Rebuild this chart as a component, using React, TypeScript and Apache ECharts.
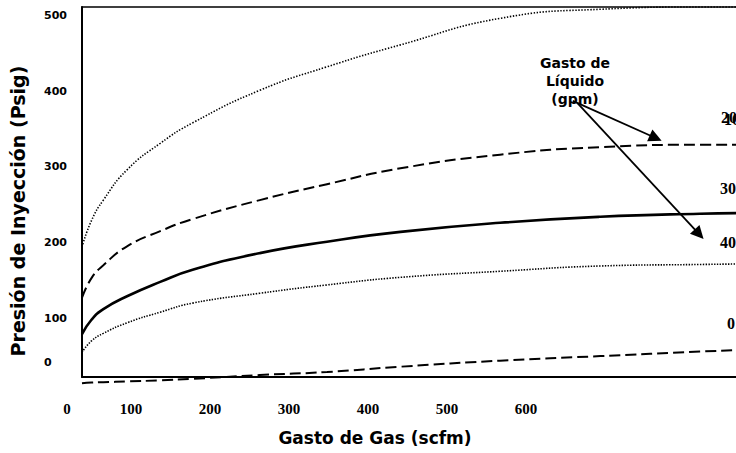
import React, { useEffect, useRef } from "react";
import * as echarts from "echarts";

// Gas flow (scfm) sample points shared by all curves
const gasScfm = [38, 50, 65, 95, 137, 178, 263, 348, 441, 567, 694, 820, 896];
// Injection pressure (Psig) for each liquid-rate curve
const curveTopDotted = [194, 229, 256, 296, 331, 358, 401, 432, 461, 496, 508, 511, 511];
const curveDashed = [127, 153, 170, 195, 215, 231, 256, 277, 298, 316, 326, 329, 329];
const curveSolid = [79, 98, 112, 129, 148, 164, 186, 201, 214, 226, 234, 238, 239];
const curveLowDotted = [55, 70, 80, 94, 108, 120, 133, 144, 154, 162, 169, 171, 172];
const curveBottomDashed = [14, 15, 15.5, 16.5, 18, 20, 25, 29, 36, 44, 50, 56, 59];

const xTickValues = [100, 200, 300, 400, 500, 600];
const yTickValues = [42, 100, 200, 300, 400, 500];
const yTickLabels = ["0", "100", "200", "300", "400", "500"];

// annotation arrows (data coords: scfm, Psig)
const arrowStarts = [[659, 387], [665, 384]];
const arrowEnds = [[764, 338], [819, 211]];

const SANS = '"DejaVu Sans", Verdana, sans-serif';
const SERIF = '"Liberation Serif", "Times New Roman", serif';

function line(ys: number[], lineStyle: any) {
  return {
    type: "line",
    data: gasScfm.map((x, i) => [x, ys[i]]),
    symbol: "none",
    showSymbol: false,
    smooth: 0.5,
    clip: false,
    silent: true,
    lineStyle: { color: "#000", ...lineStyle },
  };
}

const rightLabel = (text: string, x: number, y: number) => ({
  type: "text",
  x,
  y,
  style: { text, verticalAlign: "middle", fontFamily: SERIF, fontWeight: "bold", fontSize: 16, fill: "#000" },
});

export default function App() {
  const ref = useRef<HTMLDivElement>(null);
  useEffect(() => {
    if (!ref.current) return;
    const chart = echarts.init(ref.current, undefined, { renderer: "svg" });
    chart.setOption({
      animation: false,
      backgroundColor: "#fff",
      grid: {
        left: 82,
        top: 7,
        right: -24,
        bottom: 76,
        outerBoundsMode: "none",
        containLabel: false,
      },
      xAxis: [
        {
          type: "value",
          min: 38,
          max: 896,
          position: "bottom",
          name: "Gasto de Gas (scfm)",
          nameLocation: "middle",
          nameGap: 52,
          nameTextStyle: {
            fontFamily: SANS,
            fontWeight: "bold",
            fontSize: 17,
            color: "#000",
            padding: [0, 92, 0, 0],
          },
          axisLine: { show: true, onZero: false, lineStyle: { color: "#000", width: 2 } },
          axisTick: { show: false },
          splitLine: { show: false },
          axisLabel: {
            customValues: xTickValues,
            margin: 24,
            fontFamily: SERIF,
            fontWeight: "bold",
            fontSize: 15,
            color: "#000",
          },
        },
        {
          type: "value",
          min: 38,
          max: 896,
          position: "top",
          axisLine: { show: true, onZero: false, lineStyle: { color: "#000", width: 1.6 } },
          axisTick: { show: false },
          axisLabel: { show: false },
          splitLine: { show: false },
        },
      ],
      yAxis: {
        type: "value",
        min: 22.4,
        max: 511,
        name: "Presión de Inyección (Psig)",
        nameLocation: "middle",
        nameGap: 55,
        nameTextStyle: {
          fontFamily: SANS,
          fontWeight: "bold",
          fontSize: 19,
          color: "#000",
          padding: [0, 38, 0, 0],
        },
        axisLine: { show: true, onZero: false, lineStyle: { color: "#000", width: 2 } },
        axisTick: { show: false },
        splitLine: { show: false },
        axisLabel: {
          customValues: yTickValues,
          formatter: (v: number) => yTickLabels[yTickValues.indexOf(v)] ?? "",
          align: "left",
          margin: 38,
          fontFamily: SANS,
          fontWeight: "bold",
          fontSize: 11,
          color: "#000",
        },
      },
      series: [
        line(curveTopDotted, { width: 1.6, type: [1.4, 1.6] }),
        line(curveDashed, { width: 2, type: [11, 5] }),
        line(curveSolid, { width: 2.6, type: "solid" }),
        line(curveLowDotted, { width: 1.6, type: [1.4, 1.4] }),
        line(curveBottomDashed, { width: 2, type: [11, 5] }),
        {
          type: "line",
          data: [],
          markLine: {
            silent: true,
            symbol: ["none", "triangle"],
            symbolSize: 13,
            label: { show: false },
            lineStyle: { color: "#000", width: 1.8, type: "solid" },
            itemStyle: { color: "#000" },
            data: arrowStarts.map((s, i) => [
              { coord: s },
              { coord: arrowEnds[i] },
            ]),
          },
        },
      ],
      graphic: [
        {
          type: "text",
          x: 67,
          y: 409,
          style: {
            text: "0",
            align: "center",
            verticalAlign: "middle",
            fontFamily: SERIF,
            fontWeight: "bold",
            fontSize: 15,
            fill: "#000",
          },
        },
        {
          type: "text",
          x: 575,
          y: 81,
          style: {
            text: "Gasto de\nLíquido\n(gpm)",
            align: "center",
            verticalAlign: "middle",
            lineHeight: 18,
            fontFamily: SANS,
            fontWeight: "bold",
            fontSize: 14,
            fill: "#000",
          },
        },
        rightLabel("20", 721, 117),
        rightLabel("10", 724, 119),
        rightLabel("30", 720, 188),
        rightLabel("40", 720, 242),
        rightLabel("0", 727, 323),
      ],
    });
    return () => chart.dispose();
  }, []);
  return (
    <div
      ref={ref}
      style={{ position: "fixed", left: 0, top: 0, width: 736, height: 453, background: "#fff" }}
    />
  );
}
